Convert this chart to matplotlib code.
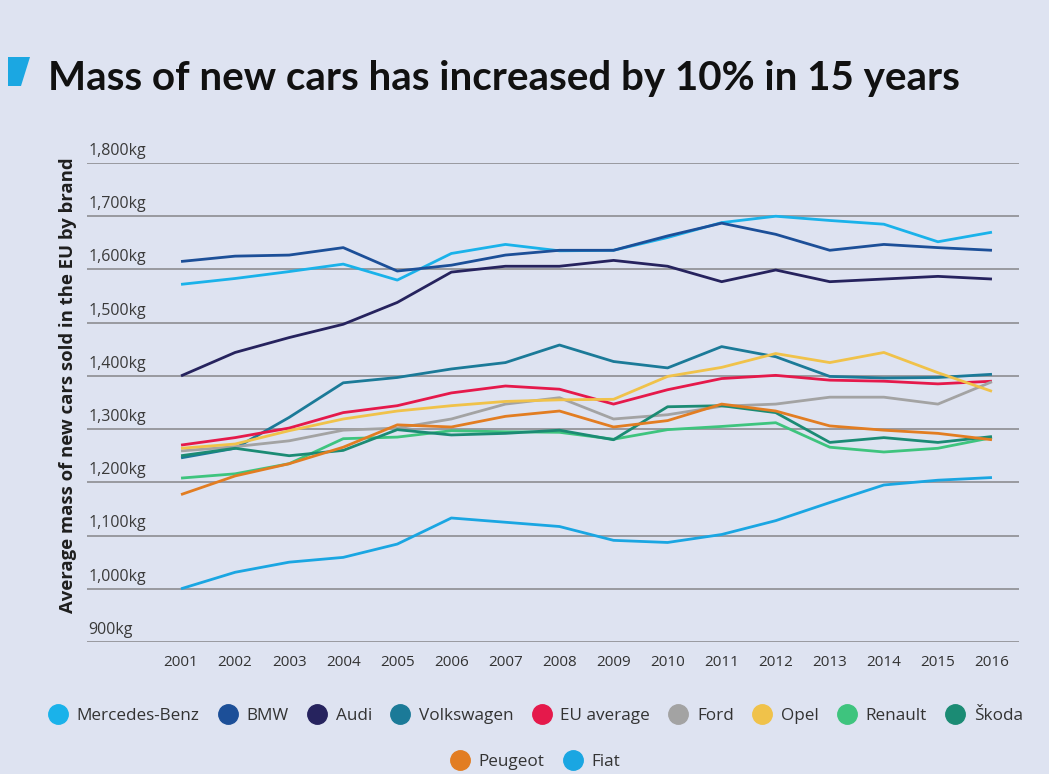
import matplotlib
matplotlib.use("Agg")
import matplotlib.pyplot as plt
from matplotlib.lines import Line2D
from matplotlib.patches import Polygon

# ---- data -------------------------------------------------------------
years = list(range(2001, 2017))
brands = ["Mercedes-Benz", "BMW", "Audi", "Volkswagen", "EU average", "Ford",
          "Opel", "Renault", "Škoda", "Peugeot", "Fiat"]

mercedes = [1572, 1583, 1596, 1610, 1580, 1630, 1647, 1635, 1636, 1660, 1688, 1700, 1692, 1685, 1652, 1670]
bmw = [1615, 1625, 1627, 1641, 1597, 1608, 1627, 1636, 1636, 1663, 1687, 1666, 1636, 1647, 1641, 1636]
audi = [1400, 1444, 1472, 1497, 1538, 1595, 1606, 1606, 1617, 1606, 1577, 1599, 1577, 1582, 1587, 1582]
volkswagen = [1246, 1264, 1322, 1387, 1397, 1413, 1425, 1458, 1427, 1415, 1455, 1436, 1399, 1396, 1397, 1403]
eu_average = [1270, 1284, 1302, 1331, 1344, 1368, 1381, 1375, 1347, 1374, 1395, 1401, 1392, 1390, 1385, 1390]
ford = [1259, 1267, 1278, 1298, 1302, 1319, 1347, 1359, 1319, 1327, 1343, 1347, 1360, 1360, 1347, 1389]
opel = [1264, 1272, 1297, 1319, 1334, 1344, 1352, 1355, 1356, 1399, 1416, 1442, 1425, 1444, 1406, 1371]
renault = [1208, 1216, 1235, 1282, 1285, 1297, 1295, 1294, 1281, 1299, 1305, 1312, 1266, 1257, 1264, 1284]
skoda = [1250, 1264, 1250, 1260, 1299, 1289, 1292, 1298, 1280, 1342, 1344, 1331, 1275, 1284, 1275, 1286]
peugeot = [1177, 1212, 1235, 1266, 1308, 1304, 1324, 1334, 1304, 1316, 1347, 1334, 1306, 1298, 1292, 1280]
fiat = [1000, 1031, 1050, 1059, 1084, 1133, 1125, 1117, 1091, 1087, 1102, 1128, 1162, 1195, 1204, 1209]

series = [mercedes, bmw, audi, volkswagen, eu_average, ford,
          opel, renault, skoda, peugeot, fiat]
colors = ["#1ab2ea", "#1c4f98", "#26235e", "#1b7a98", "#e5194b", "#a3a3a3",
          "#f0c24a", "#3ec47e", "#1b8b74", "#e27d22", "#1aa6e2"]

y_ticks = [900, 1000, 1100, 1200, 1300, 1400, 1500, 1600, 1700, 1800]
y_tick_labels = ["900kg", "1,000kg", "1,100kg", "1,200kg", "1,300kg",
                 "1,400kg", "1,500kg", "1,600kg", "1,700kg", "1,800kg"]

title = "Mass of new cars has increased by 10% in 15 years"
y_label = "Average mass of new cars sold in the EU by brand"

# ---- figure -----------------------------------------------------------
BG = "#dee3f1"
W, H = 1049, 774
fig = plt.figure(figsize=(W / 100, H / 100), dpi=100, facecolor=BG)

ax = fig.add_axes([86.7 / W, 1 - 642 / H, (1019 - 86.7) / W, (642 - 163) / H])
ax.set_facecolor(BG)
ax.set_xlim(1999.255, 2016.5)
ax.set_ylim(900, 1800)

for v in y_ticks:
    ax.axhline(v, color="#8d8d91", lw=1.2, zorder=1)

for vals, col, name in zip(series, colors, brands):
    ax.plot(years, vals, color=col, lw=2.0, solid_joinstyle="round",
            solid_capstyle="butt", zorder=3, label=name)

for s in ax.spines.values():
    s.set_visible(False)
ax.tick_params(axis="both", length=0)
ax.set_yticks([])
ax.set_xticks(years)
ax.set_xticklabels([str(y) for y in years], fontsize=11, color="#333333",
                   family="Open Sans")
ax.tick_params(axis="x", pad=9)

# y tick labels sit just above each gridline at the left edge
for v, lab in zip(y_ticks, y_tick_labels):
    ax.annotate(lab, xy=(0, v), xycoords=("axes fraction", "data"),
                xytext=(1, 3), textcoords="offset points",
                ha="left", va="bottom", fontsize=11.5, color="#3a3a3a",
                family="Open Sans")

fig.text(68 / W, 1 - 385 / H, y_label, rotation=90, ha="center", va="center",
         fontsize=13.3, fontweight="bold", color="#1e1e1e", family="Open Sans")

# title with a slanted accent block
fig.text(48 / W, 1 - 90 / H, title, ha="left", va="baseline", fontsize=29.1,
         fontweight="bold", color="#111111", family=["Lato", "Open Sans"])
accent = Polygon([(8, 57), (30, 57), (21, 86), (8, 86)], closed=True,
                 facecolor="#1ba7e2", edgecolor="none",
                 transform=fig.transFigure)
accent.set_xy([(x / W, 1 - y / H) for x, y in accent.get_xy()])
fig.patches.append(accent)

# legend in two centred rows
def handles(idx):
    return [Line2D([], [], marker="o", linestyle="", markersize=14,
                   markerfacecolor=colors[i], markeredgecolor=colors[i])
            for i in idx]

row1 = list(range(9))
row2 = [9, 10]
for idx, yc in ((row1, 716), (row2, 762)):
    leg = fig.legend(handles(idx), [brands[i] for i in idx], loc="center",
                     bbox_to_anchor=(536 / W, 1 - yc / H), ncol=len(idx),
                     frameon=False, handletextpad=0.6, columnspacing=1.15,
                     handlelength=1.0, borderpad=0,
                     prop={"family": "Open Sans", "size": 12.3})
    for t in leg.get_texts():
        t.set_color("#333333")

fig.savefig("out.png", dpi=100, facecolor=BG)
